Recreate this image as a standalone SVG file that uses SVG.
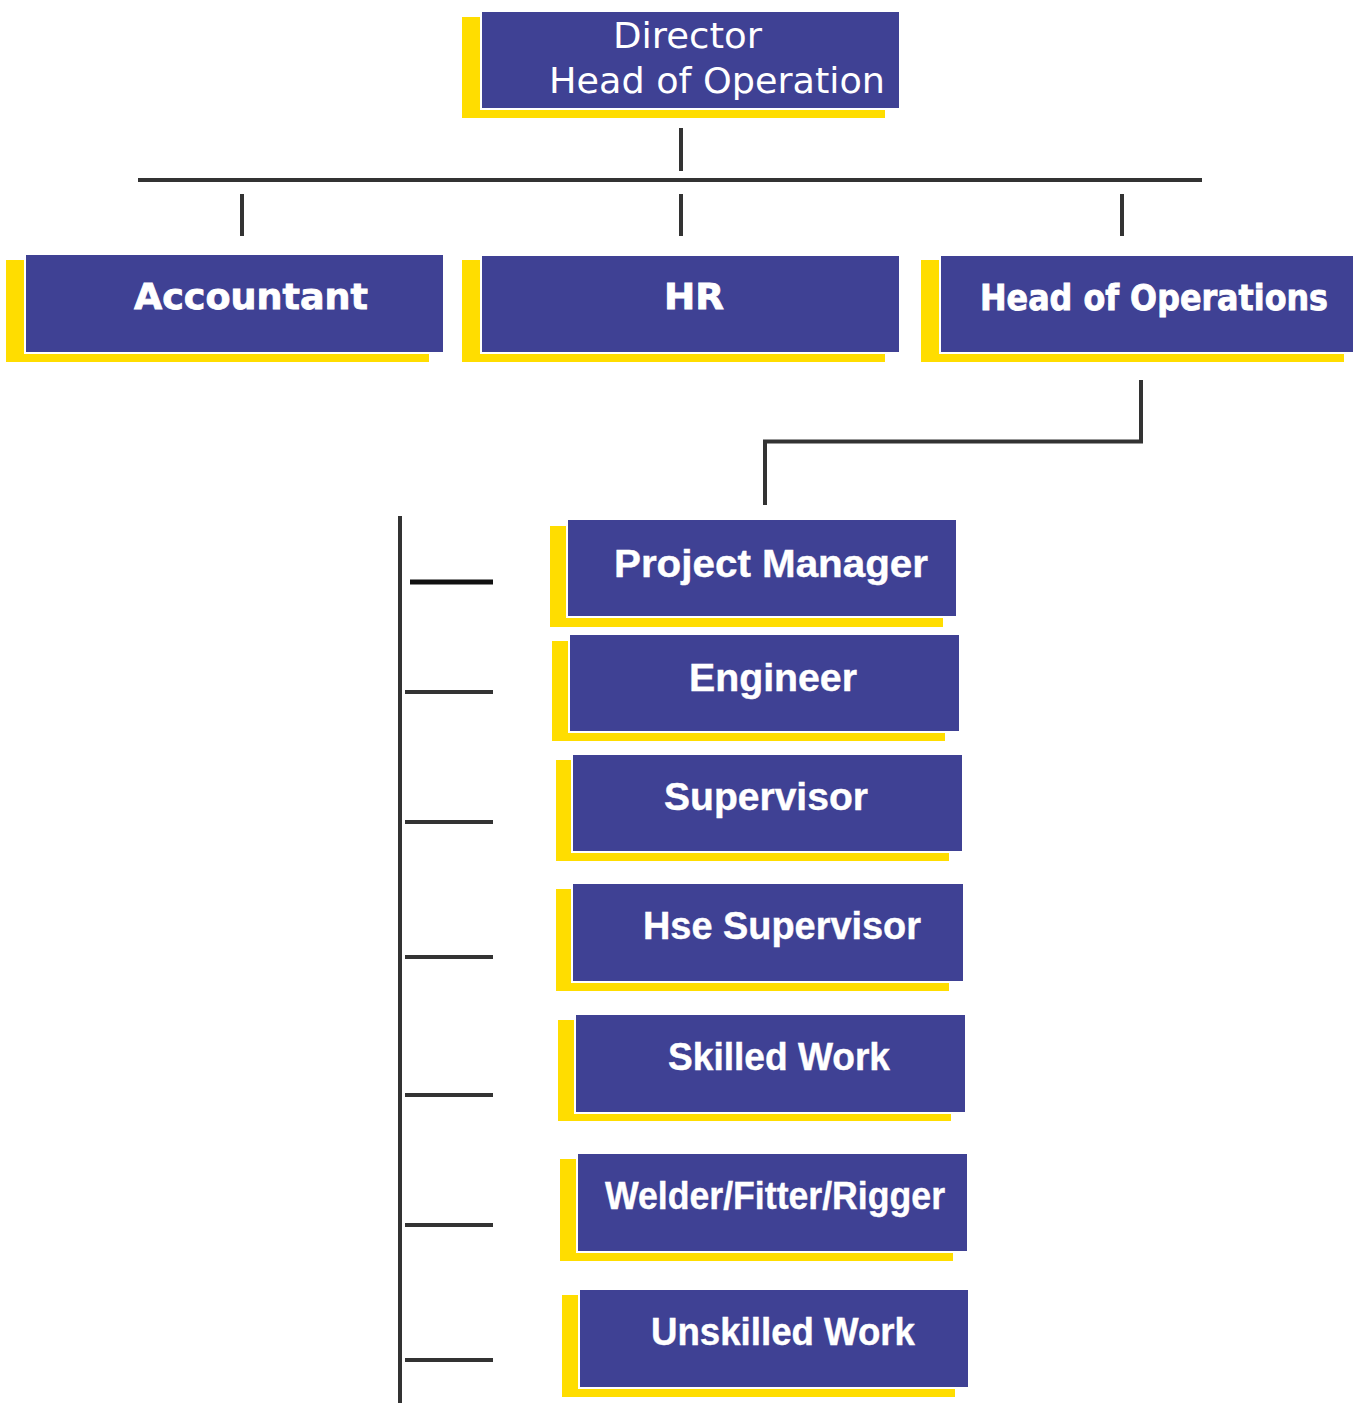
<svg xmlns="http://www.w3.org/2000/svg" width="1356" height="1403" viewBox="0 0 1356 1403">
<style>
.sh{fill:#FFDD00}
.bx{fill:#3F4194;stroke:#ffffff;stroke-width:2}
.ln{stroke:#333333;stroke-width:4;fill:none}
.t1{font-family:"DejaVu Sans",Verdana,sans-serif;font-size:36px;fill:#ffffff}
.t2{font-family:"DejaVu Sans","Liberation Sans",sans-serif;font-weight:bold;font-size:35px;fill:#ffffff;stroke:#ffffff;stroke-width:0.8}
.t3{font-family:"Liberation Sans",Arial,sans-serif;font-weight:bold;font-size:38px;fill:#ffffff;stroke:#ffffff;stroke-width:0.4}
</style>
<rect width="1356" height="1403" fill="#ffffff"/>
<g id="connectors">
<line class="ln" x1="681" y1="128" x2="681" y2="171"/>
<line class="ln" x1="138" y1="180" x2="1202" y2="180"/>
<line class="ln" x1="242" y1="194" x2="242" y2="236"/>
<line class="ln" x1="681" y1="194" x2="681" y2="236"/>
<line class="ln" x1="1122" y1="194" x2="1122" y2="236"/>
<polyline class="ln" points="1141,380 1141,441.5 765,441.5 765,505"/>
<line class="ln" x1="400" y1="516" x2="400" y2="1403"/>
<line x1="410" y1="582" x2="493" y2="582" stroke="#111111" stroke-width="5"/>
<line class="ln" x1="405" y1="692" x2="493" y2="692"/>
<line class="ln" x1="405" y1="822" x2="493" y2="822"/>
<line class="ln" x1="405" y1="957" x2="493" y2="957"/>
<line class="ln" x1="405" y1="1095" x2="493" y2="1095"/>
<line class="ln" x1="405" y1="1225" x2="493" y2="1225"/>
<line class="ln" x1="405" y1="1360" x2="493" y2="1360"/>
</g>
<g id="director">
<rect class="sh" x="462" y="17" width="423" height="101"/>
<rect class="bx" x="481" y="11" width="419" height="98"/>
<text class="t1" x="613" y="48" textLength="149" lengthAdjust="spacingAndGlyphs">Director</text>
<text class="t1" x="549" y="93" textLength="336" lengthAdjust="spacingAndGlyphs">Head of Operation</text>
</g>
<g id="accountant">
<rect class="sh" x="6" y="260" width="423" height="102"/>
<rect class="bx" x="25" y="254" width="419" height="99"/>
<text class="t2" x="134" y="309" textLength="234" lengthAdjust="spacingAndGlyphs">Accountant</text>
</g>
<g id="hr">
<rect class="sh" x="462" y="260" width="423" height="102"/>
<rect class="bx" x="481" y="255" width="419" height="98"/>
<text class="t2" x="664" y="309" textLength="60" lengthAdjust="spacingAndGlyphs">HR</text>
</g>
<g id="head-of-operations">
<rect class="sh" x="921" y="260" width="423" height="102"/>
<rect class="bx" x="940" y="255" width="414" height="98"/>
<text class="t2" transform="translate(980,310) scale(1,1.1)" x="0" y="0" style="font-size:31.8px" textLength="348" lengthAdjust="spacingAndGlyphs">Head of Operations</text>
</g>
<g id="project-manager">
<rect class="sh" x="550" y="526" width="393" height="101"/>
<rect class="bx" x="567" y="519" width="390" height="98"/>
<text class="t3" x="614" y="577" textLength="314" lengthAdjust="spacingAndGlyphs">Project Manager</text>
</g>
<g id="engineer">
<rect class="sh" x="552" y="641" width="393" height="100"/>
<rect class="bx" x="569" y="634" width="391" height="98"/>
<text class="t3" x="689" y="691" textLength="168" lengthAdjust="spacingAndGlyphs">Engineer</text>
</g>
<g id="supervisor">
<rect class="sh" x="556" y="760" width="393" height="101"/>
<rect class="bx" x="572" y="754" width="391" height="98"/>
<text class="t3" x="664" y="810" textLength="204" lengthAdjust="spacingAndGlyphs">Supervisor</text>
</g>
<g id="hse-supervisor">
<rect class="sh" x="556" y="889" width="393" height="102"/>
<rect class="bx" x="572" y="883" width="392" height="99"/>
<text class="t3" x="643" y="939" textLength="278" lengthAdjust="spacingAndGlyphs">Hse Supervisor</text>
</g>
<g id="skilled-work">
<rect class="sh" x="558" y="1020" width="393" height="101"/>
<rect class="bx" x="575" y="1014" width="391" height="99"/>
<text class="t3" x="668" y="1070" textLength="222" lengthAdjust="spacingAndGlyphs">Skilled Work</text>
</g>
<g id="welder-fitter-rigger">
<rect class="sh" x="560" y="1159" width="393" height="102"/>
<rect class="bx" x="577" y="1153" width="391" height="99"/>
<text class="t3" x="605" y="1209" textLength="340" lengthAdjust="spacingAndGlyphs">Welder/Fitter/Rigger</text>
</g>
<g id="unskilled-work">
<rect class="sh" x="562" y="1295" width="393" height="102"/>
<rect class="bx" x="579" y="1289" width="390" height="99"/>
<text class="t3" x="651" y="1345" textLength="264" lengthAdjust="spacingAndGlyphs">Unskilled Work</text>
</g>
</svg>
